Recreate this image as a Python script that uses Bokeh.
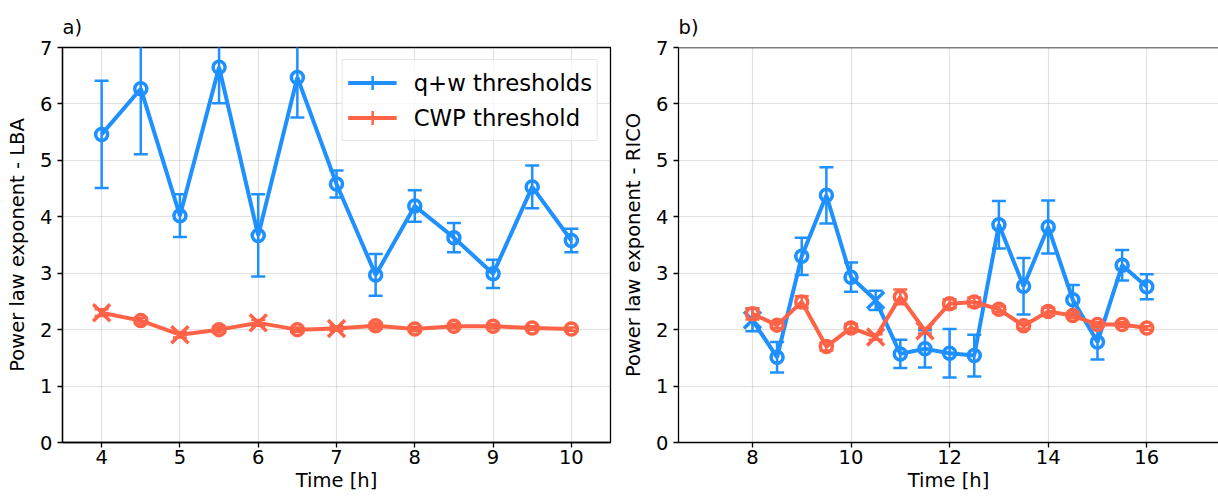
import math
from bokeh.plotting import figure
from bokeh.models import (ColumnDataSource, Legend, LegendItem, Span,
                          SingleIntervalTicker, Range1d)
from bokeh.layouts import row
from bokeh.embed import file_html
from bokeh.resources import INLINE

BLUE = "#1E90FF"
RED = "#FF6347"
FONT = "DejaVu Sans"

# ---------------- data: panel a) LBA ----------------
lba_time = [4, 4.5, 5, 5.5, 6, 6.5, 7, 7.5, 8, 8.5, 9, 9.5, 10]
lba_qw = [5.46, 6.27, 4.02, 6.65, 3.67, 6.47, 4.58, 2.97, 4.19, 3.63, 2.99, 4.53, 3.58]
lba_qw_err = [0.95, 1.16, 0.38, 0.64, 0.73, 0.71, 0.24, 0.37, 0.28, 0.26, 0.25, 0.38, 0.21]
lba_qw_cross = [False, False, False, False, False, False, False, False, False, False, False, False, False]
lba_cwp = [2.30, 2.16, 1.91, 2.00, 2.12, 2.00, 2.02, 2.07, 2.01, 2.06, 2.06, 2.03, 2.01]
lba_cwp_err = [0.06, 0.05, 0.05, 0.05, 0.05, 0.04, 0.04, 0.05, 0.04, 0.04, 0.04, 0.03, 0.03]
lba_cwp_cross = [True, False, True, False, True, False, True, False, False, False, False, False, False]

# ---------------- data: panel b) RICO ----------------
rico_time = [8, 8.5, 9, 9.5, 10, 10.5, 11, 11.5, 12, 12.5, 13, 13.5, 14, 14.5, 15, 15.5, 16]
rico_qw = [2.17, 1.51, 3.30, 4.38, 2.93, 2.52, 1.57, 1.66, 1.58, 1.54, 3.86, 2.77, 3.82, 2.53, 1.78, 3.14, 2.76]
rico_qw_err = [0.20, 0.27, 0.33, 0.50, 0.26, 0.17, 0.25, 0.33, 0.43, 0.37, 0.42, 0.50, 0.47, 0.26, 0.31, 0.27, 0.22]
rico_qw_cross = [True, False, False, False, False, True, False, False, False, False, False, False, False, False, False, False, False]
rico_cwp = [2.28, 2.08, 2.49, 1.70, 2.03, 1.87, 2.58, 1.98, 2.46, 2.49, 2.36, 2.07, 2.32, 2.25, 2.09, 2.09, 2.03]
rico_cwp_err = [0.10, 0.05, 0.10, 0.07, 0.07, 0.05, 0.13, 0.05, 0.08, 0.08, 0.05, 0.05, 0.07, 0.05, 0.04, 0.04, 0.03]
rico_cwp_cross = [False, False, False, False, False, True, False, True, False, False, False, False, False, False, False, False, False]

series_names = ["q+w thresholds", "CWP threshold"]
panel_titles = ["a)", "b)"]
ylabels = ["Power law exponent - LBA", "Power law exponent - RICO"]
xlabel = "Time [h]"


def style(p, title, ylabel, xint):
    p.title.text = title
    p.title.align = "left"
    p.title.text_font = FONT
    p.title.text_font_size = "19.5px"
    p.title.text_font_style = "normal"
    p.title.text_color = "black"
    p.title.standoff = 17
    p.xaxis.axis_label = xlabel
    p.yaxis.axis_label = ylabel
    p.xaxis.ticker = SingleIntervalTicker(interval=xint, num_minor_ticks=0)
    p.yaxis.ticker = SingleIntervalTicker(interval=1, num_minor_ticks=0)
    for ax in (p.xaxis, p.yaxis):
        ax.axis_label_text_font = FONT
        ax.axis_label_text_font_size = "19.5px"
        ax.axis_label_text_font_style = "normal"
        ax.axis_label_text_color = "black"
        ax.major_label_text_font = FONT
        ax.major_label_text_font_size = "19.5px"
        ax.major_label_text_color = "black"
        ax.axis_line_color = "black"
        ax.axis_line_width = 1.3
        ax.major_tick_line_color = "black"
        ax.major_tick_line_width = 1.3
        ax.major_tick_out = 5
        ax.major_tick_in = 0
        ax.minor_tick_line_color = None
    p.xaxis.major_label_standoff = 2
    p.xaxis.axis_label_standoff = 2
    p.yaxis.major_label_standoff = 5
    p.yaxis.axis_label_standoff = 8
    p.grid.grid_line_color = "#b0b0b0"
    p.grid.grid_line_alpha = 0.38
    p.grid.grid_line_width = 1.2
    p.background_fill_color = "white"
    p.border_fill_color = "white"


def draw_series(p, t, v, e, cross, color):
    src = ColumnDataSource(dict(
        t=t, v=v,
        lo=[a - b for a, b in zip(v, e)],
        hi=[a + b for a, b in zip(v, e)],
        marker=["x" if c else "circle" for c in cross],
        size=[24 if c else 12 for c in cross],
    ))
    ln = p.line("t", "v", source=src, line_color=color, line_width=4)
    p.segment(x0="t", y0="lo", x1="t", y1="hi", source=src,
              line_color=color, line_width=2.5)
    p.scatter("t", "lo", source=src, marker="dash", size=14,
              line_color=color, line_width=2.5)
    p.scatter("t", "hi", source=src, marker="dash", size=14,
              line_color=color, line_width=2.5)
    p.scatter("t", "v", source=src, marker="marker", size="size",
              line_color=color, fill_color=None, line_width=3.5)
    # legend-only helper (not drawn in the plot area)
    helper = p.scatter(x=[math.nan], y=[math.nan], marker="cross",
                       line_color=color, line_width=2.5)
    return ln, helper


# ---------------- panel a ----------------
p1 = figure(width=619, height=497, output_backend="svg", toolbar_location=None,
            x_range=Range1d(3.5, 10.5), y_range=Range1d(0, 7),
            min_border_left=62, min_border_right=9,
            min_border_top=47, min_border_bottom=55)
style(p1, panel_titles[0], ylabels[0], 1)
p1.outline_line_color = "black"
p1.outline_line_width = 1.3

qw1 = draw_series(p1, lba_time, lba_qw, lba_qw_err, lba_qw_cross, BLUE)
cw1 = draw_series(p1, lba_time, lba_cwp, lba_cwp_err, lba_cwp_cross, RED)

legend = Legend(items=[
    LegendItem(label=series_names[0], renderers=[qw1[0], qw1[1]]),
    LegendItem(label=series_names[1], renderers=[cw1[0], cw1[1]]),
], location="top_right")
legend.label_text_font = FONT
legend.label_text_font_size = "22.75px"
legend.label_text_color = "black"
legend.glyph_width = 49
legend.glyph_height = 35
legend.label_height = 35
legend.spacing = 0
legend.padding = 5
legend.margin = 12
legend.label_standoff = 17
legend.border_line_color = "#cccccc"
legend.border_line_width = 1.2
legend.background_fill_color = "white"
legend.background_fill_alpha = 0.8
p1.add_layout(legend)

# ---------------- panel b ----------------
p2 = figure(width=599, height=497, output_backend="svg", toolbar_location=None,
            x_range=Range1d(6.5, 17.455), y_range=Range1d(0, 7),
            min_border_left=54, min_border_right=0,
            min_border_top=47, min_border_bottom=55)
style(p2, panel_titles[1], ylabels[1], 2)
p2.outline_line_color = None
p2.add_layout(Span(location=7, dimension="width", line_color="black", line_width=1.3))

draw_series(p2, rico_time, rico_qw, rico_qw_err, rico_qw_cross, BLUE)
draw_series(p2, rico_time, rico_cwp, rico_cwp_err, rico_cwp_cross, RED)

layout = row(p1, p2)
open("out.html", "w").write(file_html(layout, INLINE))
